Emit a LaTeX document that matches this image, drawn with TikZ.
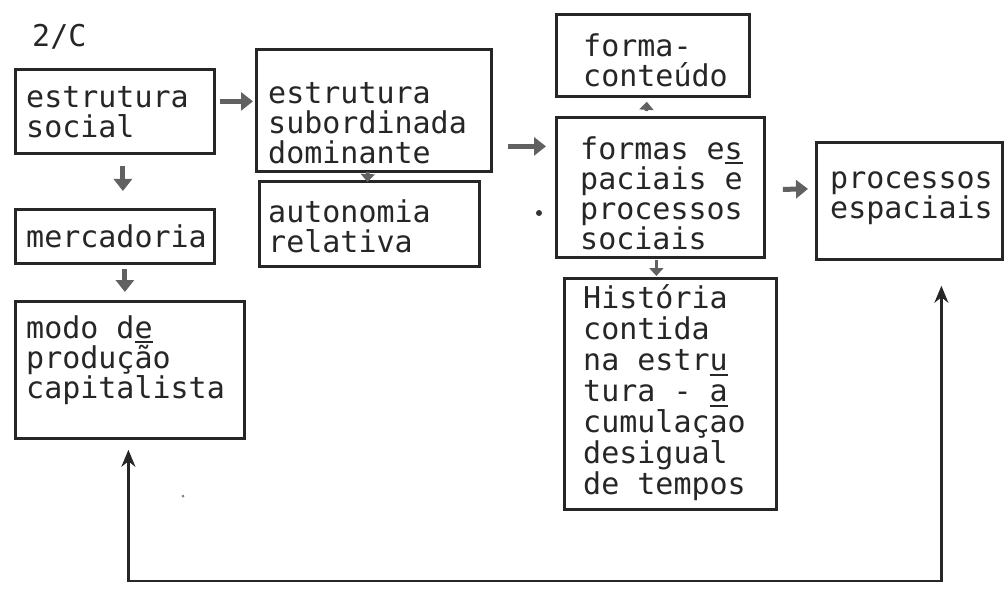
\documentclass[tikz,border=0pt]{standalone}
\usepackage{fontspec}
\newfontfamily\tw{DejaVu Sans Mono}
\usetikzlibrary{arrows.meta}
\newcommand\us[1]{\rlap{\rule[-5pt]{0.6em}{2pt}}#1}
\begin{document}
\begin{tikzpicture}[x=1pt,y=-1pt,
  box/.style={draw=black!85, line width=2.8pt, inner sep=0pt, anchor=north west},
  txt/.style={font=\tw\fontsize{30}{30}\selectfont, align=left, inner sep=0pt, anchor=west, text=black!85},
  arr/.style={draw=black!62, line width=5pt, -{Triangle[length=12pt,width=18pt]}},
  sarr/.style={draw=black!62, line width=3.5pt, -{Triangle[length=8pt,width=14pt]}},
  loopline/.style={draw=black!85, line width=2.4pt, {Stealth[length=17pt,width=14pt]}-{Stealth[length=17pt,width=14pt]}}]
\useasboundingbox (0,0) rectangle (1007,591);
\fill[white] (0,0) rectangle (1007,591);

% boxes
\node[box, minimum width=199pt, minimum height=84pt] (A) at (14,68) {};
\node[box, minimum width=199pt, minimum height=54pt] (B) at (14,208) {};
\node[box, minimum width=229pt, minimum height=137pt] (C) at (14,300) {};
\node[box, minimum width=235pt, minimum height=122pt] (D) at (255,48) {};
\node[box, minimum width=220pt, minimum height=85pt] (E) at (258,180) {};
\node[box, minimum width=193pt, minimum height=82pt] (F) at (555,13) {};
\node[box, minimum width=208pt, minimum height=140pt] (G) at (555,116) {};
\node[box, minimum width=186pt, minimum height=117pt] (H) at (815,141) {};
\node[box, minimum width=212pt, minimum height=231pt] (I) at (563,277) {};

% texts
\node[txt] (lab) at (32,37) {2/C};
\node[txt] (tA) at (26,112) {estrutura\\social};
\node[txt] (tB) at (26,236) {mercadoria};
\node[txt] (tC) at (26,360) {modo d\us{e}\\produção\\capitalista};
\node[txt] (tD) at (268,123) {estrutura\\subordinada\\dominante};
\node[txt] (tE) at (268,226) {autonomia\\relativa};
\node[txt] (tF) at (583,60) {forma-\\conteúdo};
\node[txt] (tG) at (580,193) {formas e\us{s}\\paciais e\\processos\\sociais};
\node[txt] (tH) at (830,198) {processos\\espaciais};
\node[txt, font=\tw\fontsize{30}{31}\selectfont] (tI) at (583,393) {História\\contida\\na estr\us{u}\\tura - \us{a}\\cumulaçao\\desigual\\de tempos};

% arrows
\draw[arr] ([xshift=4pt,yshift=10pt]A.east) -- ([xshift=-2pt,yshift=9pt]D.west);
\draw[arr] ([xshift=8pt,yshift=-11pt]A.south) -- ([xshift=8pt,yshift=17pt]B.north);
\draw[arr] ([xshift=10pt,yshift=-4pt]B.south) -- ([xshift=-5pt,yshift=8pt]C.north);
\draw[sarr] ([xshift=-6pt,yshift=1pt]D.south) -- ([xshift=-2pt,yshift=-2pt]E.north);
\draw[arr] ([xshift=15pt,yshift=-36pt]D.east) -- ([xshift=-9pt,yshift=41pt]G.west);
\draw[sarr] ([xshift=-14pt,yshift=5pt]G.north) -- ([xshift=-6pt,yshift=-4pt]F.south);
\draw[arr] ([xshift=17pt,yshift=-2pt]G.east) -- ([xshift=-7pt,yshift=12pt]H.west);
\draw[sarr] ([xshift=-4pt,yshift=-1pt]G.south) -- ([xshift=-14pt,yshift=1pt]I.north);
\draw[loopline] ([xshift=-1.5pt,yshift=-10pt]C.south) -- ++(0,131) -| ([xshift=32pt,yshift=-25pt]H.south);

% stray marks
\fill[black!80] (539,213) circle (3pt);
\fill[black!50] (183,496) circle (1.5pt);
\end{tikzpicture}
\end{document}
